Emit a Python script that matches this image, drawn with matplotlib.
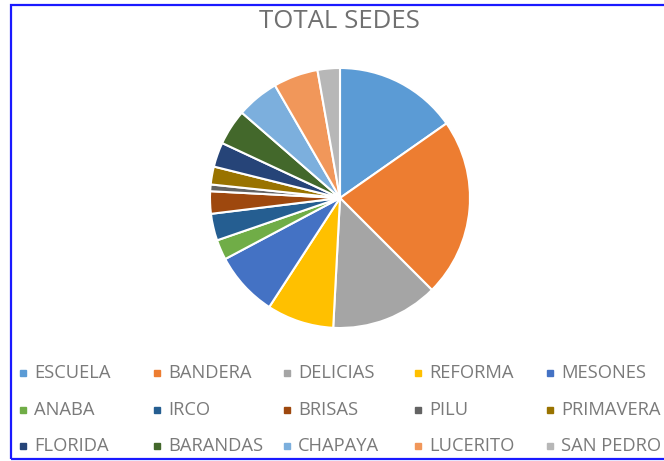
import matplotlib.pyplot as plt
from matplotlib.lines import Line2D
from matplotlib.patches import Rectangle

# data
sedes = ['ESCUELA', 'BANDERA', 'DELICIAS', 'REFORMA', 'MESONES',
         'ANABA', 'IRCO', 'BRISAS', 'PILU', 'PRIMAVERA',
         'FLORIDA', 'BARANDAS', 'CHAPAYA', 'LUCERITO', 'SAN PEDRO']
totales = [55, 80, 48, 30, 29, 9, 12, 10, 3, 8, 11, 16, 19, 20, 10]
colores = ['#5B9BD5', '#ED7D31', '#A5A5A5', '#FFC000', '#4472C4',
           '#70AD47', '#255E91', '#9E480E', '#636363', '#997300',
           '#264478', '#43682B', '#7CAFDD', '#F1975A', '#B7B7B7']

plt.rcParams['font.family'] = ['Open Sans', 'DejaVu Sans']

W, H = 664, 461
fig = plt.figure(figsize=(W / 100, H / 100), dpi=100)

# pie: center ~ (340, 198), radius ~130 px
cx, cy, r = 340, 198, 130
ax = fig.add_axes([(cx - r) / W, 1 - (cy + r) / H, 2 * r / W, 2 * r / H])
ax.pie(totales, colors=colores, startangle=90, counterclock=False,
       wedgeprops=dict(edgecolor='white', linewidth=1.5))
ax.set_xlim(-1, 1)
ax.set_ylim(-1, 1)
ax.set_aspect('equal')

fig.text(339 / W, 1 - 21 / H, 'TOTAL SEDES', ha='center', va='center',
         fontsize=18.5, color='#707070')

# legend laid out row by row like the Excel one
col_x = [23, 157, 287, 418, 550]
row_y = [373, 410, 446]
for i, (nombre, c) in enumerate(zip(sedes, colores)):
    fila, col = divmod(i, 5)
    x, y = col_x[col], row_y[fila]
    fig.add_artist(Line2D([x / W], [1 - y / H], marker='s', markersize=4,
                          color=c, transform=fig.transFigure))
    fig.text((x + 11) / W, 1 - y / H, nombre, ha='left', va='center',
             fontsize=13.2, color='#7a7a7a')

# blue frame around the picture
fig.add_artist(Rectangle((11 / W, 1 - 459 / H), (W + 10 - 11) / W, (459 - 5) / H,
                         transform=fig.transFigure, fill=False,
                         edgecolor='#1a1aff', linewidth=1.6, clip_on=False))

fig.savefig('out.png', dpi=100)
